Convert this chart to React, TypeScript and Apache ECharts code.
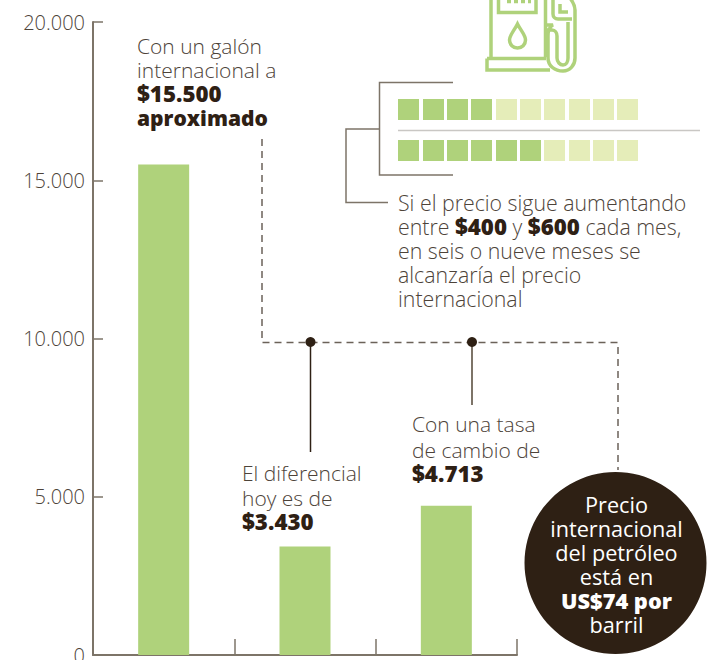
import React, { useEffect, useRef } from "react";
import * as echarts from "echarts";

const categories = ["Galón internacional", "Diferencial hoy", "Tasa de cambio"];
const priceValues = [15500, 3430, 4713];
const yTicks = { min: 0, max: 20000, interval: 5000 };
const progressRows = [4, 6];
const progressTotal = 10;

const noteGalon = ["Con un galón", "internacional a", "{b|$15.500}", "{c|aproximado}"];
const noteAumento = [
  "Si el precio sigue aumentando",
  "entre {b|$400} y {b|$600} cada mes,",
  "en seis o nueve meses se",
  "alcanzaría el precio",
  "internacional",
];
const noteDiferencial = ["El diferencial", "hoy es de", "{b|$3.430}"];
const noteTasa = ["Con una tasa", "de cambio de", "{b|$4.713}"];
const noteCirculo = ["Precio", "internacional", "del petróleo", "está en", "{d|US$74 por}", "barril"];

const GREEN = "#afd27b";
const PALE = "#e5edb9";
const INK = "#2e2014";
const TEXT = "#4d4339";
const AXIS = "#7d7468";
const FONT = "'Open Sans', sans-serif";

const pumpPath =
  "M491 -2V58M545.5 -2V57M487 58.5H546M487 58.5V70H550M498.5 -2V12.5H536V-2" +
  "M507 1.5H511M514 1.5H518M521 1.5H525M528 1.5H531" +
  "M517.5 24C514 31 509.5 35 509.5 40C509.5 44.5 513 48 517.5 48C522 48 525.5 44.5 525.5 40C525.5 35 521 31 517.5 24Z" +
  "M546 30H552C555 30 557 33 557 36V58C557 62 560 65 563 65C566 65 568 62 568 58V22" +
  "M546 25H553C549 27 548 30 548 36V58C548 66 555 71 563 71C570 71 575 65 575 58V10C575 5 573 2 570 -2" +
  "M553 -2V14C553 17 555 19 558 19H572M560 4V12H568";

function textBlock(
  lines: string[],
  x: number,
  ys: number[],
  color: string,
  size: number,
  align = "left",
  boldColor = INK,
  weight = 300,
) {
  return lines.map((line, i) => ({
    type: "text",
    x,
    y: ys[i],
    silent: true,
    style: {
      text: line,
      fill: color,
      font: `${weight} ${size}px ${FONT}`,
      align,
      verticalAlign: "middle",
      rich: {
        b: { fontFamily: FONT, fontWeight: 800, fontSize: 22.3, fill: boldColor, color: boldColor },
        c: { fontFamily: FONT, fontWeight: 800, fontSize: 21, fill: boldColor, color: boldColor },
        d: { fontFamily: FONT, fontWeight: 800, fontSize: 21.8, fill: boldColor, color: boldColor },
      },
    },
  }));
}

function lineEl(d: number[][], stroke: string, lineWidth = 1.5, dash?: number[]) {
  return {
    type: "polyline",
    silent: true,
    shape: { points: d },
    style: { stroke, lineWidth, fill: "none", lineDash: dash },
  };
}

export default function App() {
  const ref = useRef<HTMLDivElement>(null);
  useEffect(() => {
    if (!ref.current) return;
    echarts.graphic.registerShape("pumpIcon", echarts.graphic.extendPath(pumpPath, {}));
    const chart = echarts.init(ref.current, undefined, { renderer: "svg" });
    const squares: any[] = [];
    const squareX = [398, 423, 447, 471, 496, 520, 544, 569, 593, 617];
    const squareY = [99, 140];
    progressRows.forEach((filled, r) => {
      for (let i = 0; i < progressTotal; i++) {
        squares.push({
          type: "rect",
          silent: true,
          shape: { x: squareX[i], y: squareY[r], width: 21, height: 21 },
          style: { fill: i < filled ? GREEN : PALE },
        });
      }
    });
    chart.setOption({
      animation: false,
      grid: { left: 93, top: 22, width: 424, height: 633, outerBoundsMode: "none" },
      xAxis: {
        type: "category",
        data: categories,
        axisLine: { lineStyle: { color: AXIS, width: 2 } },
        axisTick: { show: true, inside: true, interval: 0, length: 16, lineStyle: { color: AXIS, width: 1.5 } },
        axisLabel: { show: false },
      },
      yAxis: {
        type: "value",
        ...yTicks,
        splitLine: { show: false },
        axisLine: { show: true, lineStyle: { color: AXIS, width: 2 } },
        axisTick: { show: true, inside: true, length: 10, lineStyle: { color: AXIS, width: 1.5 } },
        axisLabel: {
          margin: 8,
          color: TEXT,
          fontFamily: FONT,
          fontWeight: 300,
          fontSize: 20,
          hideOverlap: false,
          showMinLabel: true,
          formatter: (v: number) => (v === 0 ? "0" : `${v / 1000}.000`),
        },
      },
      series: [
        {
          type: "bar",
          data: priceValues,
          barWidth: 51,
          itemStyle: { color: GREEN },
          silent: true,
        },
      ],
      graphic: [
        { type: "pumpIcon", silent: true, style: { stroke: GREEN, lineWidth: 3.5, fill: "none" } },
        ...squares,
        lineEl([[398, 130.5], [700, 130.5]], "#c9c7c4", 1.5),
        lineEl([[453, 82.5], [379.5, 82.5], [379.5, 175], [453, 175]], AXIS, 1.5),
        lineEl([[379, 129], [346, 129], [346, 202.5], [388, 202.5]], AXIS, 1.5),
        lineEl([[262, 139], [262, 342.5], [618, 342.5], [618, 470]], "#6b6259", 1.5, [7, 5]),
        lineEl([[310.5, 342], [310.5, 452]], INK, 1.5),
        lineEl([[472, 342], [472, 405]], AXIS, 2),
        { type: "circle", silent: true, shape: { cx: 310.5, cy: 342, r: 5 }, style: { fill: INK } },
        { type: "circle", silent: true, shape: { cx: 472, cy: 342, r: 5 }, style: { fill: INK } },
        { type: "circle", silent: true, shape: { cx: 615.5, cy: 563, r: 91 }, style: { fill: INK } },
        ...textBlock(noteGalon, 137, [45.5, 69.5, 93.5, 117.5], TEXT, 21),
        ...textBlock(noteAumento, 398, [202.5, 226.5, 250.5, 274.5, 298.5], TEXT, 21.3),
        ...textBlock(noteDiferencial, 242, [472.5, 497.5, 521.5], TEXT, 21),
        ...textBlock(noteTasa, 412, [423.5, 449.5, 473.5], TEXT, 21),
        ...textBlock(noteCirculo, 616.5, [504.5, 528.5, 552.5, 576.5, 600.5, 624], "#ffffff", 21.7, "center", "#ffffff", 400),
      ],
    });
    return () => chart.dispose();
  }, []);
  return <div ref={ref} style={{ position: "absolute", left: 0, top: 0, width: 711, height: 660 }} />;
}
